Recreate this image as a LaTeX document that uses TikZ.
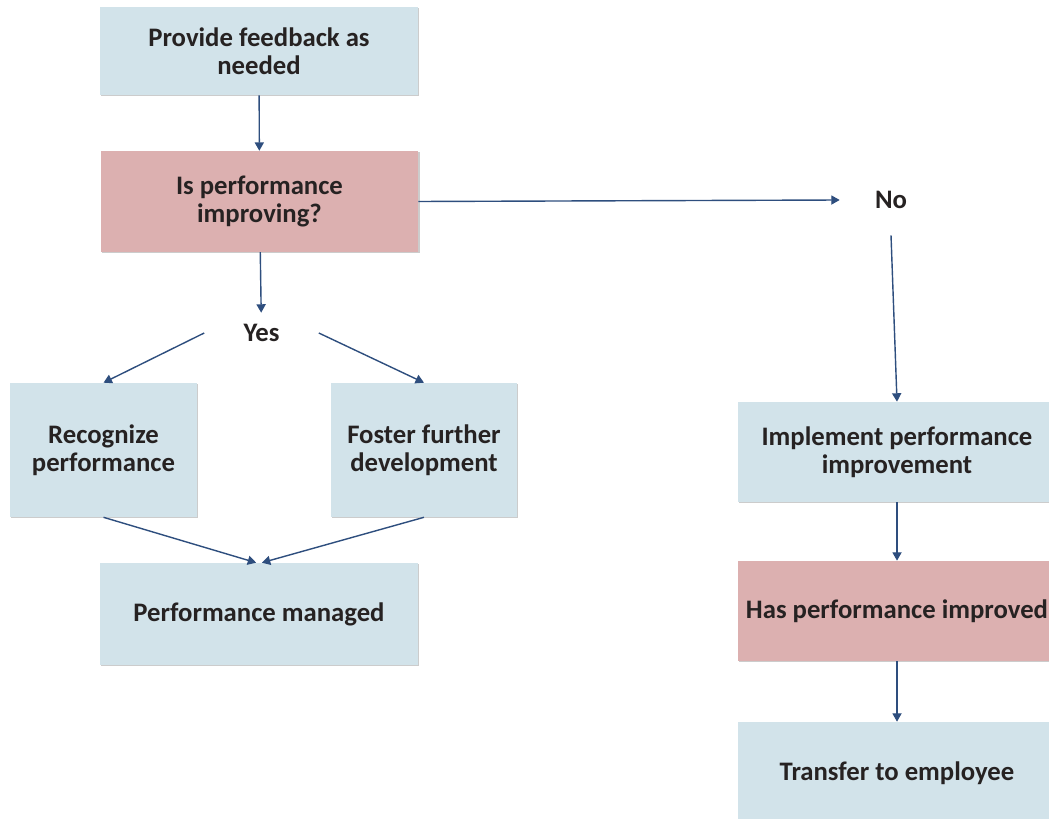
\documentclass[tikz,border=0pt]{standalone}
\usepackage{fontspec}
\setmainfont{Carlito}
\usetikzlibrary{arrows.meta,shadows}
\definecolor{boxblue}{RGB}{210,227,234}
\definecolor{boxred}{RGB}{220,176,176}
\definecolor{linkblue}{RGB}{46,78,126}
\definecolor{txtgrey}{RGB}{38,34,34}

\begin{document}
\begin{tikzpicture}[x=0.025cm,y=-0.025cm,
  box/.style={fill=boxblue, align=center, text=txtgrey,
    font=\fontsize{19}{20}\selectfont\bfseries,
    drop shadow={shadow xshift=1pt, shadow yshift=-1pt, opacity=0.2, fill=black}},
  ask/.style={box, fill=boxred},
  tag/.style={align=center, text=txtgrey, font=\fontsize{19}{20}\selectfont\bfseries},
  link/.style={draw=linkblue, line width=1pt, -{Triangle[length=6pt,width=6.5pt]}}]
\path[use as bounding box] (0,0) rectangle (1049,819);
\clip (0,0) rectangle (1049,819);
% left column
\node[box, minimum width=7.95cm, minimum height=2.2cm] (feedback) at (259,51) {Provide feedback as\\needed};
\node[ask, minimum width=7.93cm, minimum height=2.52cm] (improving) at (259.5,201.5) {Is performance\\improving?};
\node[tag, minimum width=2.85cm, minimum height=1cm] (yes) at (261.5,333) {Yes};
\node[box, minimum width=4.67cm, minimum height=3.35cm] (recognize) at (103.5,450) {Recognize\\performance};
\node[box, minimum width=4.65cm, minimum height=3.35cm] (foster) at (424,450) {Foster further\\development};
\node[box, minimum width=7.95cm, minimum height=2.55cm] (managed) at (259,614) {Performance managed};
% right column
\node[tag, minimum width=2.55cm, minimum height=1.75cm] (no) at (891,200) {No};
\node[box, minimum width=7.95cm, minimum height=2.5cm] (implement) at (897,452) {Implement performance\\improvement};
\node[ask, minimum width=7.95cm, minimum height=2.5cm] (improved) at (897,611) {Has performance improved};
\node[box, minimum width=7.95cm, minimum height=2.55cm] (transfer) at (897,773) {Transfer to employee};
% connectors
\draw[link] (feedback) -- (improving);
\draw[link] (improving) -- (yes);
\draw[link] (yes.west) -- (recognize.north);
\draw[link] (yes.east) -- (foster.north);
\draw[link] (recognize.south) -- ([xshift=-2pt]managed.north);
\draw[link] (foster.south) -- ([xshift=2pt]managed.north);
\draw[link] (improving.east) -- (no.west);
\draw[link] (no.south) -- (implement.north);
\draw[link] (implement) -- (improved);
\draw[link] (improved) -- (transfer);
\end{tikzpicture}
\end{document}
